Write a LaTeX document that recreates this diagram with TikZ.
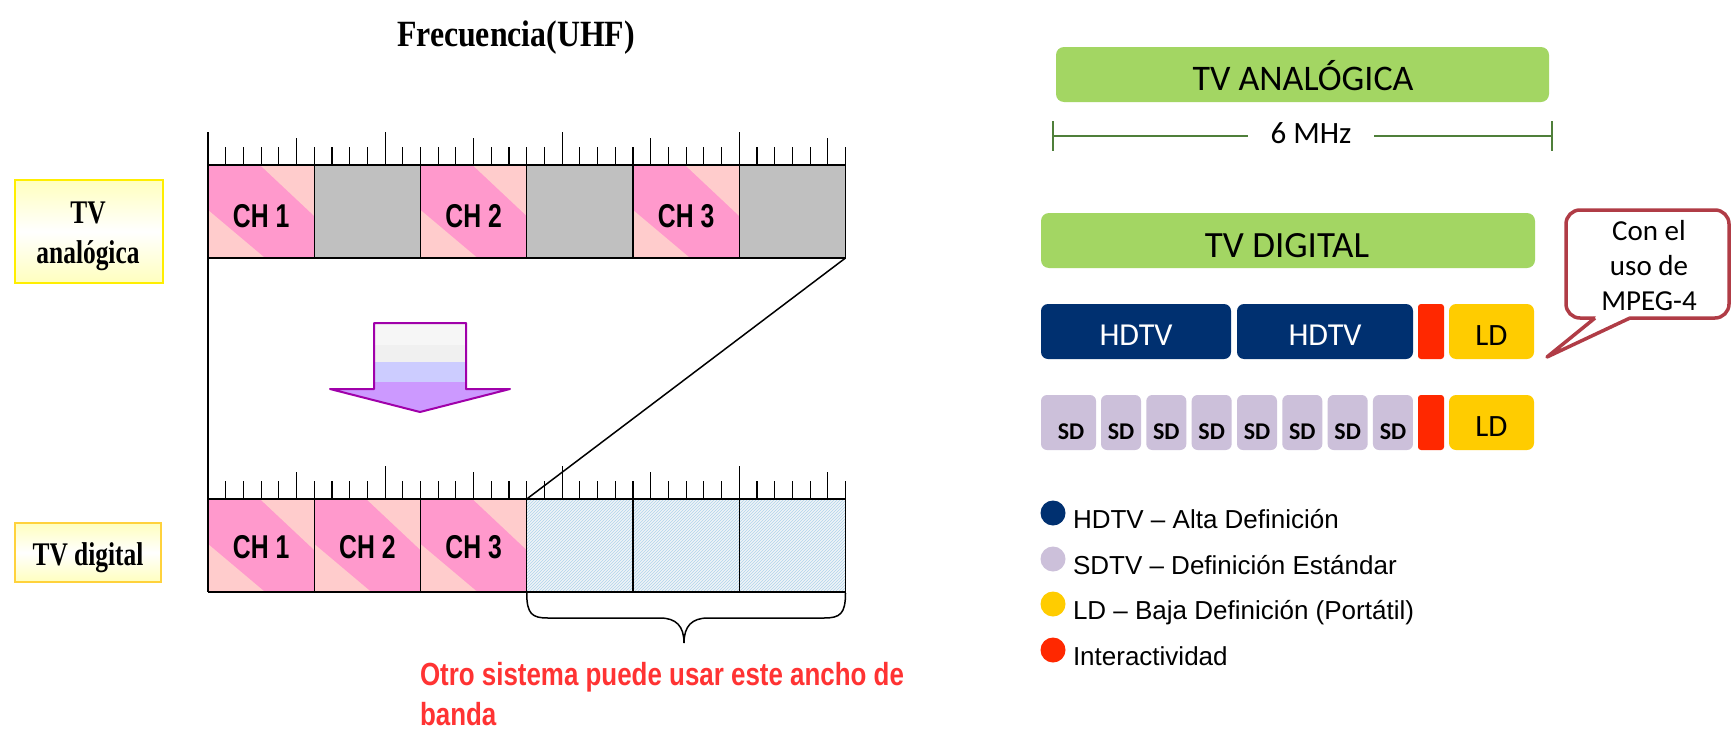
\documentclass[tikz,border=0pt]{standalone}
\usepackage{fontspec}
\setmainfont{Liberation Serif}
\newfontfamily\calib{Carlito}
\newfontfamily\arialf{Liberation Sans}
\newfontfamily\chfont[FakeStretch=0.75]{Liberation Sans}
\newfontfamily\redfont[FakeStretch=0.81]{Liberation Sans}
\newfontfamily\labfont[FakeStretch=0.77]{Liberation Serif}
\newfontfamily\titfont[FakeStretch=0.86]{Liberation Serif}
\usetikzlibrary{patterns}
\newcommand\fsz[2]{\fontsize{#1}{#2}\selectfont}
\definecolor{pinkD}{RGB}{255,153,204}
\definecolor{pinkL}{RGB}{255,204,204}
\definecolor{grayC}{RGB}{192,192,192}
\definecolor{hatchB}{RGB}{175,212,235}
\definecolor{hatchBg}{RGB}{240,244,247}
\definecolor{arrowB}{RGB}{160,0,170}
\definecolor{arrowP}{RGB}{204,153,255}
\definecolor{arrowL}{RGB}{204,204,255}
\definecolor{redT}{RGB}{255,51,51}
\definecolor{greenBox}{RGB}{163,214,99}
\definecolor{greenLine}{RGB}{79,127,58}
\definecolor{navy}{RGB}{0,48,112}
\definecolor{sdC}{RGB}{204,192,218}
\definecolor{ldC}{RGB}{255,204,0}
\definecolor{interC}{RGB}{255,40,0}
\definecolor{bubbleC}{RGB}{176,60,70}
\definecolor{yelL}{RGB}{255,255,190}
\definecolor{yelB}{RGB}{255,238,0}
\definecolor{yelO}{RGB}{255,210,60}
\newcommand\pinkcell[2]{%
  \fill[pinkD] (#1,#2) rectangle ++(106.25,93);
  \fill[pinkL] (#1+52,#2) -- (#1+106.25,#2) -- (#1+106.25,#2+51) -- cycle;
  \fill[pinkL] (#1,#2+45) -- (#1,#2+93) -- (#1+57,#2+93) -- cycle;
}
\tikzset{
  txt/.style={inner sep=0, outer sep=0},
  bandline/.style={line width=1.8},
  sepline/.style={line width=1.2},
  tickline/.style={line width=1.1},
  blk/.style={rounded corners=7, inner sep=0, minimum height=55, draw=none},
  legdot/.style={circle, inner sep=0, minimum size=25},
  greenbox/.style={fill=greenBox, rounded corners=8, inner sep=0, minimum height=55},
  labbox/.style={draw=yelB, line width=2, inner sep=0, top color=yelL, bottom color=yelL, middle color=white}
}
\begin{document}
\begin{tikzpicture}[x=1pt,y=-1pt]
\useasboundingbox (0,0) rectangle (1733,731);
\fill[white] (0,0) rectangle (1733,731);

% title
\node[txt, anchor=base] (title) at (516,46) {\titfont\bfseries\fsz{37}{37}Frecuencia(UHF)};

% band 1 cells
\foreach \i in {0,2,4} {
  \pgfmathsetmacro\cx{208+\i*106.25}
  \pinkcell{\cx}{165}
}
\foreach \i in {1,3,5} {
  \pgfmathsetmacro\cx{208+\i*106.25}
  \fill[grayC] (\cx,165) rectangle ++(106.25,93);
}
% band 2 cells
\foreach \i in {0,1,2} {
  \pgfmathsetmacro\cx{208+\i*106.25}
  \pinkcell{\cx}{499}
}
\fill[hatchBg] (526.75,499) rectangle (845.5,592);
\fill[pattern=north east lines, pattern color=hatchB] (526.75,499) rectangle (845.5,592);

% band lines and ticks
\foreach \t in {165,499} {
  \draw[bandline] (208,\t) -- (845.5,\t);
  \draw[bandline] (208,\t+93) -- (845.5,\t+93);
  \foreach \i in {0,...,6} \draw[sepline] (208+\i*106.25,\t) -- (208+\i*106.25,\t+93);
  \foreach \i in {0,...,36} {
    \pgfmathsetmacro\h{ifthenelse(mod(\i,10)==0,33,ifthenelse(mod(\i,5)==0,27,18))}
    \draw[tickline] (208+\i*17.7083,\t) -- ++(0,-\h);
  }
}

% CH labels
\foreach \n/\x in {1/261.1,2/473.6,3/686.1} {
  \node[txt, anchor=base] (cha\n) at (\x,227) {\chfont\bfseries\fsz{33}{33}CH \n};
}
\foreach \n/\x in {1/261.1,2/367.4,3/473.6} {
  \node[txt, anchor=base] (chd\n) at (\x,558) {\chfont\bfseries\fsz{33}{33}CH \n};
}

% connector lines
\coordinate (b1L) at (208,258);
\coordinate (b2L) at (208,499);
\coordinate (b1R) at (845.5,258);
\coordinate (b2M) at (526.75,499);
\draw[line width=1.2] (b1L) -- (b2L);
\draw[line width=1.5] (b1R) -- (b2M);

% down arrow
\fill[gray!7] (374,323) rectangle (466,345);
\fill[gray!12] (374,345) rectangle (466,362);
\fill[arrowL] (374,362) rectangle (466,382);
\fill[arrowP] (374,382) rectangle (466,390);
\fill[arrowP] (330,389) -- (510,389) -- (420,412) -- cycle;
\draw[arrowB, line width=2, line join=round] (374,389) -- (374,323) -- (466,323) -- (466,389) -- (510,389) -- (420,412) -- (330,389) -- cycle;

% brace
\draw[line width=1.5] (526.75,593) .. controls (526.75,614) and (532,618) .. (548,618) -- (660,618)
  .. controls (676,618) and (684,626) .. (684,643)
  .. controls (684,626) and (692,618) .. (708,618) -- (824,618)
  .. controls (840,618) and (845.5,614) .. (845.5,593);

% red text
\node[txt, anchor=base west, text=redT] (red1) at (420,685) {\redfont\bfseries\fsz{32}{32}Otro sistema puede usar este ancho de};
\node[txt, anchor=base west, text=redT] (red2) at (420,725) {\redfont\bfseries\fsz{32}{32}banda};

% left label boxes
\node[labbox, minimum width=148, minimum height=103] (labA) at (89,231.5) {};
\node[txt, anchor=base] (labA1) at (88,223) {\labfont\bfseries\fsz{33}{33}TV};
\node[txt, anchor=base] (labA2) at (88,263) {\labfont\bfseries\fsz{33}{33}analógica};
\node[labbox, draw=yelO, minimum width=146, minimum height=59] (labD) at (88,552.5) {};
\node[txt, anchor=base] (labD1) at (88,565) {\labfont\bfseries\fsz{33}{33}TV digital};

% right: analog
\node[greenbox, minimum width=493] (anaBox) at (1302.5,74.5) {};
\node[txt, anchor=base] (anaTxt) at (1303,90) {\calib\fsz{36}{36}TV ANALÓGICA};
\node[txt, anchor=base] (mhz) at (1311,143) {\calib\fsz{31}{31}6 MHz};
\coordinate (mL) at (1053,136);
\coordinate (mR) at (1552,136);
\draw[greenLine, line width=2] (mL) -- (1248,136);
\draw[greenLine, line width=2] (1374,136) -- (mR);
\draw[greenLine, line width=2] ([yshift=15]mL) -- ([yshift=-15]mL);
\draw[greenLine, line width=2] ([yshift=15]mR) -- ([yshift=-15]mR);

% right: digital
\node[greenbox, minimum width=494] (digBox) at (1288,240.5) {};
\node[txt, anchor=base] (digTxt) at (1287,257) {\calib\fsz{37}{37}TV DIGITAL};

% HDTV row
\node[blk, fill=navy, minimum width=190] (hd1) at (1136,331.5) {};
\node[blk, fill=navy, minimum width=176] (hd2) at (1325,331.5) {};
\node[blk, fill=interC, minimum width=26, rounded corners=3] (int1) at (1431,331.5) {};
\node[blk, fill=ldC, minimum width=85] (ld1) at (1491.5,331.5) {};
\node[txt, anchor=base, text=white] (hd1t) at (1136,345) {\calib\fsz{32}{32}HDTV};
\node[txt, anchor=base, text=white] (hd2t) at (1325,345) {\calib\fsz{32}{32}HDTV};
\node[txt, anchor=base] (ld1t) at (1491.5,345) {\calib\fsz{31}{31}LD};

% SD row
\node[blk, fill=sdC, minimum width=55, rounded corners=6] (sd0) at (1068.5,422.5) {};
\node[txt, anchor=base] (sdt0) at (1071,439) {\calib\bfseries\fsz{24}{24}SD};
\foreach \k in {1,...,7} {
  \pgfmathsetmacro\sx{1101+(\k-1)*45.33+20}
  \node[blk, fill=sdC, minimum width=40, rounded corners=6] (sd\k) at (\sx,422.5) {};
  \node[txt, anchor=base] (sdt\k) at (\sx,439) {\calib\bfseries\fsz{24}{24}SD};
}
\node[blk, fill=interC, minimum width=26, rounded corners=3] (int2) at (1431,422.5) {};
\node[blk, fill=ldC, minimum width=85] (ld2) at (1491.5,422.5) {};
\node[txt, anchor=base] (ld2t) at (1491.5,436) {\calib\fsz{31}{31}LD};

% callout
\draw[bubbleC, line width=3.5, fill=white, rounded corners=14] (1566,210) rectangle (1729,318);
\fill[white] (1597,314) -- (1628,314) -- (1630,318) -- (1547,357) -- (1595,318) -- cycle;
\coordinate (tip) at (1547,357);
\draw[bubbleC, line width=3.5, line join=round] (1595,318) -- (tip) -- (1630,318);
\node[txt, anchor=base] (bub1) at (1649,240) {\calib\fsz{29}{29}Con el};
\node[txt, anchor=base] (bub2) at (1649,275) {\calib\fsz{29}{29}uso de};
\node[txt, anchor=base] (bub3) at (1649,310) {\calib\fsz{29}{29}MPEG-4};

% legend
\node[legdot, fill=navy] (lg1) at (1053,513) {};
\node[legdot, fill=sdC] (lg2) at (1053,559) {};
\node[legdot, fill=ldC] (lg3) at (1053,604) {};
\node[legdot, fill=interC] (lg4) at (1053,650) {};
\node[txt, anchor=base west] (lt1) at (1073,528) {\arialf\fsz{26}{26}HDTV – Alta Definición};
\node[txt, anchor=base west] (lt2) at (1073,574) {\arialf\fsz{26}{26}SDTV – Definición Estándar};
\node[txt, anchor=base west] (lt3) at (1073,619) {\arialf\fsz{26}{26}LD – Baja Definición (Portátil)};
\node[txt, anchor=base west] (lt4) at (1073,665) {\arialf\fsz{26}{26}Interactividad};
\end{tikzpicture}
\end{document}
